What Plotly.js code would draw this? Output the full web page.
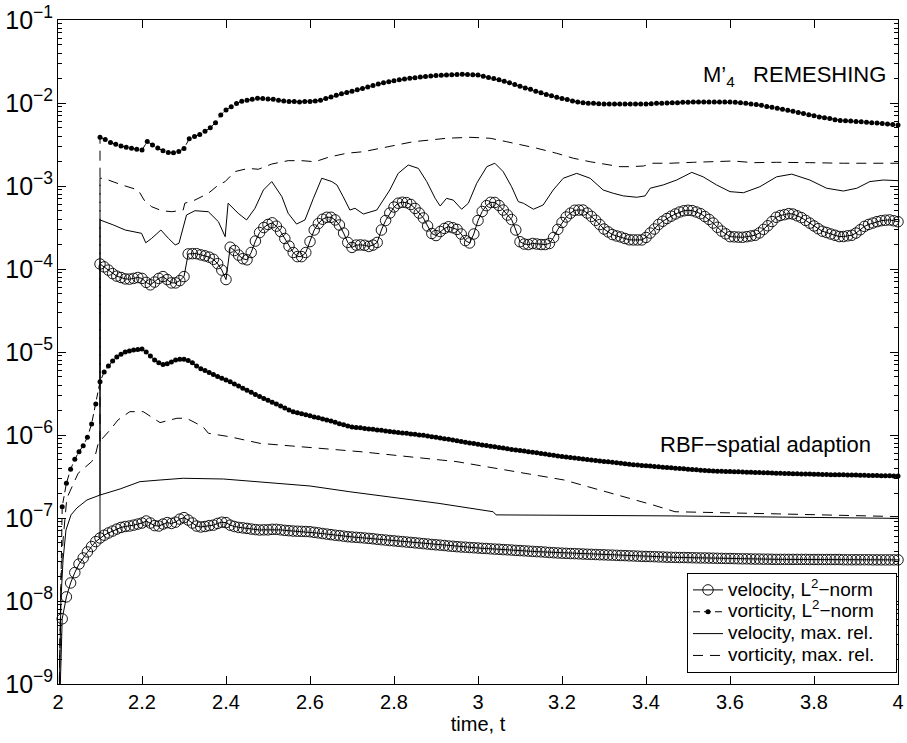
<!DOCTYPE html>
<html><head><meta charset="utf-8">
<script src="https://cdn.plot.ly/plotly-3.0.1.min.js"></script>
<style>html,body{margin:0;padding:0;background:#fff}</style>
</head><body>
<div id="chart" style="width:907px;height:743px"></div>
<script>
// ---- sampling of the marker series (time start / step) ----
const rbfT0 = 2.0, rbfDt = 0.01;
const remT0 = 2.1, remVelDt = 0.01, remVortDt = 0.0125;

// ---- RBF-spatial adaption: velocity, L2-norm (t = 2.00 ... 4.00) ----
const rbfVelL2 = [1e-10,6.1e-9,1.12e-8,1.65e-8,2.2e-8,2.79e-8,3.3e-8,3.9e-8,4.53e-8,5.2e-8,
5.74e-8,6.2e-8,6.6e-8,6.96e-8,7.36e-8,7.7e-8,7.9e-8,8.0e-8,8.2e-8,8.45e-8,
8.7e-8,9.2e-8,8.7e-8,8.1e-8,8.0e-8,8.45e-8,8.8e-8,8.6e-8,8.9e-8,9.7e-8,
1.01e-7,9.45e-8,8.7e-8,8.0e-8,7.8e-8,7.9e-8,8.1e-8,8.2e-8,8.6e-8,8.9e-8,
8.8e-8,8.2e-8,7.9e-8,7.7e-8,7.6e-8,7.5e-8,7.36e-8,7.25e-8,7.17e-8,7.2e-8,
7.2e-8,7.3e-8,7.3e-8,7.2e-8,7.1e-8,7.03e-8,6.96e-8,6.93e-8,6.9e-8,6.87e-8,
6.83e-8,6.72e-8,6.62e-8,6.5e-8,6.4e-8,6.3e-8,6.2e-8,6.13e-8,6.04e-8,5.95e-8,
5.9e-8,5.85e-8,5.8e-8,5.74e-8,5.68e-8,5.62e-8,5.54e-8,5.48e-8,5.42e-8,5.35e-8,
5.3e-8,5.24e-8,5.19e-8,5.13e-8,5.08e-8,5.02e-8,4.97e-8,4.91e-8,4.86e-8,4.8e-8,
4.75e-8,4.71e-8,4.66e-8,4.6e-8,4.56e-8,4.51e-8,4.47e-8,4.45e-8,4.41e-8,4.38e-8,
4.35e-8,4.31e-8,4.29e-8,4.25e-8,4.22e-8,4.2e-8,4.16e-8,4.14e-8,4.11e-8,4.07e-8,
4.05e-8,4.02e-8,3.99e-8,3.96e-8,3.93e-8,3.91e-8,3.88e-8,3.84e-8,3.82e-8,3.79e-8,
3.77e-8,3.75e-8,3.73e-8,3.72e-8,3.7e-8,3.68e-8,3.66e-8,3.65e-8,3.63e-8,3.61e-8,
3.6e-8,3.58e-8,3.57e-8,3.55e-8,3.53e-8,3.52e-8,3.5e-8,3.49e-8,3.47e-8,3.45e-8,
3.44e-8,3.43e-8,3.42e-8,3.4e-8,3.39e-8,3.37e-8,3.36e-8,3.35e-8,3.34e-8,3.34e-8,
3.33e-8,3.32e-8,3.31e-8,3.3e-8,3.3e-8,3.29e-8,3.28e-8,3.27e-8,3.26e-8,3.25e-8,
3.25e-8,3.24e-8,3.23e-8,3.22e-8,3.22e-8,3.21e-8,3.2e-8,3.2e-8,3.19e-8,3.19e-8,
3.18e-8,3.17e-8,3.17e-8,3.17e-8,3.17e-8,3.17e-8,3.17e-8,3.17e-8,3.17e-8,3.16e-8,
3.16e-8,3.16e-8,3.16e-8,3.16e-8,3.16e-8,3.16e-8,3.16e-8,3.14e-8,3.14e-8,3.14e-8,
3.14e-8,3.14e-8,3.14e-8,3.14e-8,3.13e-8,3.13e-8,3.13e-8,3.13e-8,3.13e-8,3.13e-8,
3.13e-8];

// ---- RBF-spatial adaption: vorticity, L2-norm (t = 2.00 ... 4.00) ----
const rbfVortL2 = [1e-10,1.37e-7,2.62e-7,3.86e-7,5.1e-7,6.3e-7,7.4e-7,9.4e-7,1.36e-6,2.36e-6,
4.39e-6,5.74e-6,6.8e-6,7.8e-6,8.7e-6,9.4e-6,1.0e-5,1.03e-5,1.06e-5,1.07e-5,
1.09e-5,1.0e-5,8.95e-6,8.0e-6,7.4e-6,7.07e-6,7.2e-6,7.6e-6,8.0e-6,8.2e-6,
8.2e-6,7.9e-6,7.4e-6,6.8e-6,6.3e-6,6.0e-6,5.66e-6,5.35e-6,5.07e-6,4.83e-6,
4.6e-6,4.39e-6,4.12e-6,3.9e-6,3.67e-6,3.46e-6,3.27e-6,3.08e-6,2.91e-6,2.76e-6,
2.62e-6,2.48e-6,2.36e-6,2.24e-6,2.12e-6,2.0e-6,1.9e-6,1.85e-6,1.8e-6,1.75e-6,
1.7e-6,1.65e-6,1.61e-6,1.56e-6,1.52e-6,1.47e-6,1.42e-6,1.37e-6,1.33e-6,1.28e-6,
1.25e-6,1.23e-6,1.22e-6,1.2e-6,1.18e-6,1.17e-6,1.15e-6,1.14e-6,1.12e-6,1.1e-6,
1.09e-6,1.07e-6,1.06e-6,1.05e-6,1.03e-6,1.02e-6,1.0e-6,9.9e-7,9.7e-7,9.5e-7,
9.4e-7,9.2e-7,9.0e-7,8.9e-7,8.7e-7,8.5e-7,8.35e-7,8.2e-7,8.0e-7,7.9e-7,
7.75e-7,7.6e-7,7.45e-7,7.3e-7,7.2e-7,7.07e-7,6.95e-7,6.83e-7,6.7e-7,6.6e-7,
6.5e-7,6.4e-7,6.3e-7,6.2e-7,6.1e-7,6.0e-7,5.9e-7,5.8e-7,5.7e-7,5.6e-7,
5.5e-7,5.43e-7,5.36e-7,5.28e-7,5.21e-7,5.15e-7,5.08e-7,5.0e-7,4.94e-7,4.87e-7,
4.8e-7,4.75e-7,4.69e-7,4.63e-7,4.56e-7,4.51e-7,4.45e-7,4.39e-7,4.35e-7,4.3e-7,
4.26e-7,4.22e-7,4.17e-7,4.14e-7,4.09e-7,4.06e-7,4.02e-7,3.98e-7,3.95e-7,3.91e-7,
3.87e-7,3.84e-7,3.81e-7,3.77e-7,3.73e-7,3.7e-7,3.69e-7,3.67e-7,3.66e-7,3.64e-7,
3.63e-7,3.61e-7,3.6e-7,3.58e-7,3.56e-7,3.55e-7,3.54e-7,3.53e-7,3.51e-7,3.5e-7,
3.48e-7,3.47e-7,3.45e-7,3.44e-7,3.43e-7,3.42e-7,3.41e-7,3.4e-7,3.39e-7,3.38e-7,
3.37e-7,3.36e-7,3.35e-7,3.34e-7,3.33e-7,3.33e-7,3.32e-7,3.31e-7,3.3e-7,3.3e-7,
3.29e-7,3.28e-7,3.27e-7,3.26e-7,3.25e-7,3.24e-7,3.23e-7,3.23e-7,3.22e-7,3.21e-7,
3.2e-7];

// ---- RBF-spatial adaption: velocity, max. rel. ----
const rbfVelMaxT = [2.0,2.0036,2.007,2.012,2.019,2.031,2.045,2.069,2.1,2.148,2.195,2.243,2.298,2.394,2.481,2.6,2.695,2.907,3.036,3.043,3.46,4.0];
const rbfVelMax  = [1e-10,1e-9,1.03e-8,3.12e-8,7.17e-8,1.09e-7,1.32e-7,1.65e-7,1.89e-7,2.24e-7,2.74e-7,2.87e-7,3.01e-7,2.95e-7,2.74e-7,2.43e-7,2.07e-7,1.5e-7,1.19e-7,1.09e-7,1.06e-7,9.9e-8];

// ---- RBF-spatial adaption: vorticity, max. rel. ----
const rbfVortMaxT = [2.0,2.0024,2.007,2.012,2.021,2.048,2.08,2.088,2.096,2.124,2.143,2.171,2.203,2.243,2.283,2.306,2.345,2.358,2.386,2.41,2.481,2.56,2.64,2.719,2.95,3.205,3.418,3.469,3.716,4.0];
const rbfVortMax  = [1e-10,1e-9,1.79e-8,5.43e-8,1.73e-7,3.46e-7,4.77e-7,5.47e-7,8.0e-7,1.15e-6,1.52e-6,1.91e-6,1.91e-6,1.41e-6,1.59e-6,1.59e-6,1.26e-6,1.05e-6,1.0e-6,9.5e-7,7.93e-7,7.36e-7,6.9e-7,6.3e-7,4.77e-7,2.87e-7,1.43e-7,1.19e-7,1.12e-7,1.04e-7];

// ---- M'4 remeshing: velocity, L2-norm (t = 2.10 ... 4.00) ----
const remVelL2 = [1.15e-4,1.06e-4,9.7e-5,8.8e-5,8.2e-5,7.9e-5,7.6e-5,7.55e-5,7.7e-5,7.9e-5,
7.7e-5,6.9e-5,6.45e-5,6.96e-5,7.7e-5,8.1e-5,7.46e-5,6.8e-5,6.8e-5,7.25e-5,
8.1e-5,1.52e-4,1.53e-4,1.53e-4,1.48e-4,1.44e-4,1.39e-4,1.31e-4,1.16e-4,9.7e-5,
7.46e-5,1.83e-4,1.67e-4,1.47e-4,1.33e-4,1.29e-4,1.58e-4,2.17e-4,2.75e-4,3.16e-4,
3.44e-4,3.6e-4,3.28e-4,2.83e-4,2.33e-4,1.89e-4,1.58e-4,1.41e-4,1.41e-4,1.58e-4,
2.14e-4,2.95e-4,3.53e-4,3.98e-4,4.2e-4,4.2e-4,3.9e-4,3.39e-4,2.71e-4,2.09e-4,
1.82e-4,1.94e-4,1.95e-4,1.93e-4,1.87e-4,1.94e-4,2.09e-4,2.95e-4,3.84e-4,4.72e-4,
5.58e-4,6.2e-4,6.37e-4,6.3e-4,5.98e-4,5.37e-4,4.72e-4,4.12e-4,3.3e-4,2.68e-4,
2.53e-4,2.83e-4,3.08e-4,3.23e-4,3.14e-4,3.0e-4,2.64e-4,2.2e-4,2.06e-4,2.64e-4,
3.84e-4,4.93e-4,5.8e-4,6.36e-4,6.33e-4,5.83e-4,5.13e-4,4.47e-4,3.94e-4,2.95e-4,
2.13e-4,2.0e-4,1.97e-4,2.03e-4,2.0e-4,1.97e-4,1.97e-4,2.03e-4,2.4e-4,3.0e-4,
3.63e-4,4.23e-4,4.7e-4,5.1e-4,5.13e-4,5.13e-4,4.72e-4,4.3e-4,3.86e-4,3.43e-4,
3.03e-4,2.8e-4,2.6e-4,2.5e-4,2.43e-4,2.33e-4,2.25e-4,2.24e-4,2.24e-4,2.24e-4,
2.4e-4,2.71e-4,3.03e-4,3.44e-4,3.76e-4,4.06e-4,4.33e-4,4.6e-4,4.86e-4,5.03e-4,
5.1e-4,5.05e-4,4.86e-4,4.64e-4,4.29e-4,3.96e-4,3.58e-4,3.18e-4,2.86e-4,2.65e-4,
2.45e-4,2.44e-4,2.42e-4,2.41e-4,2.45e-4,2.5e-4,2.55e-4,2.72e-4,3.0e-4,3.32e-4,
3.73e-4,4.2e-4,4.41e-4,4.52e-4,4.65e-4,4.59e-4,4.37e-4,4.16e-4,3.85e-4,3.57e-4,
3.3e-4,3.06e-4,2.85e-4,2.75e-4,2.64e-4,2.55e-4,2.46e-4,2.46e-4,2.51e-4,2.55e-4,
2.71e-4,2.97e-4,3.26e-4,3.44e-4,3.58e-4,3.72e-4,3.82e-4,3.87e-4,3.9e-4,3.81e-4,
3.71e-4];

// ---- M'4 remeshing: vorticity, L2-norm (t = 2.10 ... 4.00) ----
const remVortL2 = [3.86e-3,3.64e-3,3.34e-3,3.19e-3,3.03e-3,2.92e-3,2.84e-3,2.78e-3,2.71e-3,
3.43e-3,3.12e-3,2.87e-3,2.66e-3,2.53e-3,2.51e-3,2.61e-3,2.83e-3,
3.7e-3,3.94e-3,4.18e-3,4.56e-3,5.02e-3,5.8e-3,7.17e-3,8.26e-3,9.03e-3,9.86e-3,
1.05e-2,1.08e-2,1.11e-2,1.14e-2,1.13e-2,1.12e-2,1.11e-2,1.08e-2,1.06e-2,1.04e-2,
1.04e-2,1.03e-2,1.04e-2,1.04e-2,1.06e-2,1.08e-2,1.13e-2,1.18e-2,1.24e-2,1.29e-2,
1.34e-2,1.39e-2,1.44e-2,1.5e-2,1.56e-2,1.62e-2,1.69e-2,1.75e-2,1.8e-2,1.85e-2,
1.9e-2,1.95e-2,1.99e-2,2.02e-2,2.05e-2,2.08e-2,2.11e-2,2.14e-2,2.16e-2,2.18e-2,
2.19e-2,2.2e-2,2.22e-2,2.21e-2,2.19e-2,2.18e-2,2.1e-2,2.03e-2,1.97e-2,1.9e-2,
1.83e-2,1.75e-2,1.67e-2,1.59e-2,1.52e-2,1.46e-2,1.39e-2,1.33e-2,1.27e-2,1.22e-2,
1.17e-2,1.13e-2,1.1e-2,1.06e-2,1.03e-2,1.01e-2,9.9e-3,9.9e-3,9.8e-3,9.7e-3,
9.7e-3,9.7e-3,9.7e-3,9.7e-3,9.7e-3,9.7e-3,9.7e-3,
9.7e-3,9.8e-3,9.9e-3,9.9e-3,1.0e-2,1.01e-2,1.01e-2,1.02e-2,1.02e-2,1.03e-2,
1.03e-2,1.03e-2,1.03e-2,1.03e-2,1.03e-2,1.03e-2,1.03e-2,1.02e-2,
1.01e-2,9.95e-3,9.75e-3,9.6e-3,9.4e-3,9.1e-3,8.9e-3,8.65e-3,8.4e-3,8.2e-3,
7.93e-3,7.7e-3,7.46e-3,7.2e-3,7.0e-3,6.8e-3,6.63e-3,6.49e-3,6.3e-3,6.17e-3,
6.1e-3,6.05e-3,5.98e-3,5.93e-3,5.88e-3,5.8e-3,5.74e-3,5.66e-3,5.58e-3,5.5e-3,5.43e-3];

// ---- M'4 remeshing: velocity, max. rel. ----
const remVelMaxT = [2.1,2.1,2.132,2.16,2.199,2.209,2.223,2.245,2.263,2.279,2.288,2.306,2.326,2.358,2.382,2.398,2.405,2.429,2.449,2.469,2.489,2.509,2.533,2.548,2.568,2.588,2.608,2.628,2.652,2.664,2.679,2.695,2.707,2.727,2.759,2.79,2.81,2.834,2.858,2.878,2.898,2.91,2.925,2.941,2.961,2.977,2.997,3.021,3.04,3.06,3.08,3.096,3.108,3.132,3.155,3.179,3.203,3.235,3.267,3.298,3.322,3.346,3.378,3.398,3.41,3.441,3.473,3.509,3.536,3.568,3.6,3.632,3.671,3.711,3.747,3.79,3.83,3.87,3.902,3.933,3.965,4.0];
const remVelMax  = [1.89e-7,3.9e-4,3.39e-4,2.95e-4,2.69e-4,2.07e-4,2.34e-4,2.95e-4,2.34e-4,1.95e-4,2.04e-4,4.47e-4,5.04e-4,4.9e-4,3.71e-4,2.45e-4,6.2e-4,4.69e-4,3.9e-4,5.39e-4,8.95e-4,1.13e-3,7.44e-4,4.69e-4,3.48e-4,3.9e-4,7.1e-4,1.24e-3,1.13e-3,1.03e-3,7.44e-4,5.13e-4,5.39e-4,4.6e-4,5.13e-4,8.95e-4,1.42e-3,1.79e-3,1.63e-3,1.13e-3,7.1e-4,5.74e-4,7.1e-4,6.77e-4,5.25e-4,6.2e-4,1.08e-3,1.71e-3,1.88e-3,1.49e-3,9.8e-4,6.47e-4,6.2e-4,5.25e-4,5.9e-4,8.95e-4,1.24e-3,1.42e-3,1.24e-3,8.95e-4,8.17e-4,7.6e-4,7.32e-4,7.6e-4,9.4e-4,1.03e-3,1.18e-3,1.46e-3,1.29e-3,1.03e-3,8.55e-4,8.3e-4,9.8e-4,1.29e-3,1.39e-3,1.18e-3,9.4e-4,8.7e-4,9.4e-4,1.13e-3,1.18e-3,1.16e-3];

// ---- M'4 remeshing: vorticity, max. rel. ----
const remVortMaxT = [2.1,2.1,2.116,2.152,2.191,2.205,2.223,2.247,2.271,2.298,2.302,2.326,2.358,2.382,2.398,2.421,2.453,2.477,2.509,2.548,2.58,2.612,2.644,2.687,2.727,2.767,2.806,2.846,2.886,2.925,2.981,3.029,3.068,3.108,3.14,3.187,3.227,3.267,3.306,3.338,3.362,3.394,3.414,3.457,3.513,3.568,3.608,3.656,3.711,3.79,3.87,4.0];
const remVortMax  = [8.45e-7,1.25e-3,1.2e-3,1.03e-3,8.95e-4,6.77e-4,5.63e-4,5.04e-4,4.9e-4,5.13e-4,6.2e-4,6.77e-4,8.17e-4,1.03e-3,1.13e-3,1.49e-3,1.63e-3,1.59e-3,1.84e-3,2.02e-3,2.02e-3,1.96e-3,2.22e-3,2.48e-3,2.59e-3,2.85e-3,3.12e-3,3.42e-3,3.58e-3,3.76e-3,3.86e-3,3.76e-3,3.42e-3,3.12e-3,2.85e-3,2.48e-3,2.16e-3,1.96e-3,1.83e-3,1.71e-3,1.71e-3,1.74e-3,1.88e-3,1.88e-3,1.93e-3,1.96e-3,2.0e-3,1.91e-3,1.93e-3,1.91e-3,1.88e-3,1.88e-3];

// ---- jump at the start of remeshing (t = 2.1): value before -> after ----
const jumpT = [2.1, 2.1];
const velL2Jump  = [5.74e-8, 1.15e-4];
const vortL2Jump = [4.39e-6, 3.86e-3];

// ---- legend / text labels ----
const legendNames = ['velocity, L<sup>2</sup>\u2212norm', 'vorticity, L<sup>2</sup>\u2212norm', 'velocity, max. rel.', 'vorticity, max. rel.'];
const labelRemesh = 'M\u2019<sub>4</sub>\u00a0\u00a0\u00a0REMESHING';
const labelRbf = 'RBF\u2212spatial adaption';

const FONT = 'Liberation Sans, Arial, Helvetica, sans-serif';
const K = 'black';
const circ = {symbol: 'circle-open', size: 10.5, color: K, line: {color: K, width: 0.9}};
const dot = {symbol: 'circle', size: 5, color: K};
const velL2Line = {color: K, width: 1};
const vortL2Line = {color: K, width: 1, dash: '7px,4px'};
const solidLine = {color: K, width: 1};
const dashLine = {color: K, width: 1, dash: '10px,7px'};
const legendLabel = s => '<span style="font-size:19px">' + s + '\u00a0\u00a0\u00a0</span>';

const traces = [
  {type: 'scatter', mode: 'lines+markers', name: legendLabel(legendNames[0]), x0: rbfT0, dx: rbfDt, y: rbfVelL2, line: velL2Line, marker: circ, cliponaxis: false},
  {type: 'scatter', mode: 'lines+markers', name: legendLabel(legendNames[1]), x0: rbfT0, dx: rbfDt, y: rbfVortL2, line: vortL2Line, marker: dot, cliponaxis: false},
  {type: 'scatter', mode: 'lines', name: legendLabel(legendNames[2]), x: rbfVelMaxT, y: rbfVelMax, line: solidLine},
  {type: 'scatter', mode: 'lines', name: legendLabel(legendNames[3]), x: rbfVortMaxT, y: rbfVortMax, line: dashLine},
  {type: 'scatter', mode: 'lines', showlegend: false, x: jumpT, y: velL2Jump, line: velL2Line},
  {type: 'scatter', mode: 'lines', showlegend: false, x: jumpT, y: vortL2Jump, line: {color: K, width: 1, dash: '10px,7px'}},
  {type: 'scatter', mode: 'lines+markers', showlegend: false, x0: remT0, dx: remVelDt, y: remVelL2, line: velL2Line, marker: circ, cliponaxis: false},
  {type: 'scatter', mode: 'lines+markers', showlegend: false, x0: remT0, dx: remVortDt, y: remVortL2, line: vortL2Line, marker: dot, cliponaxis: false},
  {type: 'scatter', mode: 'lines', showlegend: false, x: remVelMaxT, y: remVelMax, line: solidLine},
  {type: 'scatter', mode: 'lines', showlegend: false, x: remVortMaxT, y: remVortMax, line: dashLine}
];

const axisCommon = {
  showline: true, linecolor: K, linewidth: 1, mirror: 'allticks',
  ticks: 'inside', ticklen: 8, tickwidth: 1, tickcolor: K,
  showgrid: false, zeroline: false,
  tickfont: {family: FONT, size: 20, color: K}
};

const layout = {
  width: 907, height: 743,
  margin: {l: 58, r: 9, t: 20, b: 59},
  paper_bgcolor: 'white', plot_bgcolor: 'white',
  font: {family: FONT, color: K},
  showlegend: true,
  xaxis: Object.assign({}, axisCommon, {
    range: [2, 4], tick0: 2, dtick: 0.2,
    title: {text: 'time, t', font: {family: FONT, size: 20, color: K}, standoff: 4}
  }),
  yaxis: Object.assign({}, axisCommon, {
    type: 'log', range: [-9, -1], dtick: 1, exponentformat: 'power',
    minor: {ticks: 'inside', ticklen: 4, tickcolor: K, dtick: 'D1', showgrid: false}
  }),
  legend: {
    x: 0.9988, y: 0.0166, xanchor: 'right', yanchor: 'bottom',
    bgcolor: 'white', bordercolor: K, borderwidth: 1,
    font: {family: FONT, size: 14.5, color: K}, tracegroupgap: 0, itemwidth: 30
  },
  annotations: [
    {xref: 'paper', yref: 'paper', x: 0.988, y: 0.9157, xanchor: 'right', yanchor: 'middle',
     text: labelRemesh, showarrow: false, font: {family: FONT, size: 22, color: K}},
    {xref: 'paper', yref: 'paper', x: 0.8417, y: 0.36, xanchor: 'center', yanchor: 'middle',
     text: labelRbf, showarrow: false, font: {family: FONT, size: 22, color: K}}
  ]
};

Plotly.newPlot('chart', traces, layout, {displayModeBar: false, staticPlot: true});
</script>
</body></html>
